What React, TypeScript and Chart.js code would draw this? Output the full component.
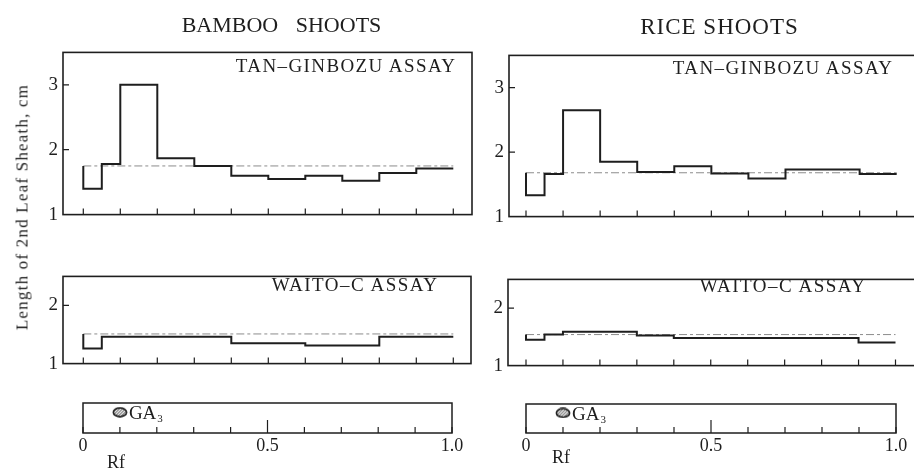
import React, { useEffect, useRef } from "react";
import { Chart, registerables } from "chart.js";

Chart.register(...registerables);

// ---------------- data ----------------
const rfBinStarts = [0, 0.05, 0.1, 0.2, 0.3, 0.4, 0.5, 0.6, 0.7, 0.8, 0.9];
const rfEnd = 1.0;

const bambooTanGinbozu = [1.4, 1.78, 3.0, 1.87, 1.75, 1.6, 1.55, 1.6, 1.52, 1.64, 1.71];
const bambooTanControl = 1.75;

const riceTanGinbozu = [1.33, 1.66, 2.65, 1.85, 1.69, 1.78, 1.67, 1.59, 1.73, 1.73, 1.66];
const riceTanControl = 1.68;

const bambooWaitoC = [1.26, 1.46, 1.46, 1.46, 1.46, 1.35, 1.35, 1.31, 1.31, 1.46, 1.46];
const bambooWaitoControl = 1.51;

const riceWaitoC = [1.45, 1.54, 1.59, 1.59, 1.525, 1.48, 1.48, 1.48, 1.48, 1.48, 1.4];
const riceWaitoControl = 1.54;

const ga3Rf = 0.1;

const rfTickValues = [0, 0.1, 0.2, 0.3, 0.4, 0.5, 0.6, 0.7, 0.8, 0.9, 1.0];
const rfLabelValues = [0, 0.5, 1.0];
const rfLabelTexts = ["0", "0.5", "1.0"];
const tanYLabels = [1, 2, 3];
const waitoYLabels = [1, 2];

// ---------------- styling ----------------
const FONT = "'Liberation Serif', 'Times New Roman', serif";
const INK = "#1e1e1e";

type Area = { l: number; t: number; r: number; b: number };

function stepPoints(values: number[], control: number) {
  const pts = [{ x: rfBinStarts[0], y: control }];
  values.forEach((v, i) => pts.push({ x: rfBinStarts[i], y: v }));
  pts.push({ x: rfEnd, y: values[values.length - 1] });
  return pts;
}

const near = (a: number, b: number) => Math.abs(a - b) < 1e-6;

const framePlugin = {
  id: "frame",
  afterDraw(chart: any, _args: any, opts: any) {
    const { ctx, chartArea: a, scales } = chart;
    ctx.save();
    ctx.strokeStyle = INK;
    ctx.lineWidth = opts.lineWidth || 1.5;
    ctx.strokeRect(a.left, a.top, a.right - a.left, a.bottom - a.top);
    ctx.lineWidth = 1.2;
    ctx.beginPath();
    (opts.xMarks || []).forEach((v: number) => {
      const px = scales.x.getPixelForValue(v);
      const len = opts.bigX && opts.bigX.some((b: number) => near(b, v)) ? opts.bigLen : opts.len;
      ctx.moveTo(px, a.bottom);
      ctx.lineTo(px, a.bottom - len);
    });
    (opts.yMarks || []).forEach((v: number) => {
      const py = scales.y.getPixelForValue(v);
      ctx.moveTo(a.left, py);
      ctx.lineTo(a.left + opts.len, py);
    });
    ctx.stroke();
    ctx.restore();
  },
};

const gaLabelPlugin = {
  id: "gaLabel",
  afterDatasetsDraw(chart: any) {
    const meta = chart.getDatasetMeta(0);
    if (!meta || !meta.data.length) return;
    const p = meta.data[0];
    const ctx = chart.ctx;
    ctx.save();
    ctx.fillStyle = INK;
    ctx.textBaseline = "alphabetic";
    ctx.font = `19px ${FONT}`;
    const x0 = p.x + 9;
    const base = p.y + 7;
    ctx.fillText("GA", x0, base);
    const w = ctx.measureText("GA").width;
    ctx.font = `11px ${FONT}`;
    ctx.fillText("3", x0 + w + 1, base + 3);
    ctx.restore();
  },
};

function makeSpotIcon() {
  const c = document.createElement("canvas");
  c.width = 16;
  c.height = 11;
  const g = c.getContext("2d")!;
  g.beginPath();
  g.ellipse(8, 5.5, 6.6, 4.3, 0, 0, Math.PI * 2);
  g.fillStyle = "#9a9a9a";
  g.fill();
  g.save();
  g.clip();
  g.strokeStyle = "#f4f4f4";
  g.lineWidth = 1;
  for (let i = -12; i < 20; i += 3) {
    g.beginPath();
    g.moveTo(i, 11);
    g.lineTo(i + 11, 0);
    g.stroke();
  }
  g.restore();
  g.beginPath();
  g.ellipse(8, 5.5, 6.6, 4.3, 0, 0, Math.PI * 2);
  g.lineWidth = 1.7;
  g.strokeStyle = "#222";
  g.stroke();
  return c;
}

type PlotProps = {
  area: Area;
  x0px: number;
  x1px: number;
  yMax: number;
  yLabels: number[];
  values: number[];
  control: number;
};

const PAD_L = 40;
const PAD_T = 4;
const PAD_R = 4;
const PAD_B = 4;

function PlotPanel({ area, x0px, x1px, yMax, yLabels, values, control }: PlotProps) {
  const ref = useRef<HTMLCanvasElement>(null);
  const width = area.r - area.l + PAD_L + PAD_R;
  const height = area.b - area.t + PAD_T + PAD_B;
  useEffect(() => {
    if (!ref.current) return;
    const unit = x1px - x0px;
    const xMin = (area.l - x0px) / unit;
    const xMax = (area.r - x0px) / unit;
    const chart = new Chart(ref.current, {
      type: "line",
      data: {
        datasets: [
          {
            data: stepPoints(values, control),
            stepped: true,
            borderColor: INK,
            borderWidth: 2,
            pointRadius: 0,
            fill: false,
            borderJoinStyle: "miter",
          },
          {
            data: [
              { x: rfBinStarts[0], y: control },
              { x: rfEnd, y: control },
            ],
            borderColor: "#8c8c8c",
            borderWidth: 1,
            borderDash: [8, 3, 3, 3],
            pointRadius: 0,
            fill: false,
          },
        ],
      } as any,
      options: {
        animation: false,
        responsive: false,
        events: [],
        layout: { padding: { left: 0, top: PAD_T, right: PAD_R, bottom: 0 } },
        plugins: {
          legend: { display: false },
          tooltip: { enabled: false },
          frame: { xMarks: rfTickValues, yMarks: yLabels.slice(1), len: 6, lineWidth: 1.6 },
        } as any,
        scales: {
          x: {
            type: "linear",
            min: xMin,
            max: xMax,
            grid: { display: false, drawTicks: false },
            border: { display: false },
            ticks: { display: false },
            afterFit: (s: any) => {
              s.height = PAD_B;
            },
          },
          y: {
            type: "linear",
            min: 1,
            max: yMax,
            grid: { display: false, drawTicks: false },
            border: { display: false },
            ticks: {
              stepSize: 1,
              autoSkip: false,
              padding: 5,
              color: INK,
              font: { family: FONT, size: 19 },
              callback: (v: any) => (yLabels.some((l) => near(l, v)) ? String(v) : ""),
            },
            afterFit: (s: any) => {
              s.width = PAD_L;
            },
          },
        },
      } as any,
      plugins: [framePlugin],
    });
    return () => chart.destroy();
  }, []);
  return (
    <canvas
      ref={ref}
      width={width}
      height={height}
      style={{ position: "absolute", left: area.l - PAD_L, top: area.t - PAD_T, width, height }}
    />
  );
}

const S_PAD_X = 24;
const S_PAD_T = 3;
const S_PAD_B = 26;

function StripPanel({ area }: { area: Area }) {
  const ref = useRef<HTMLCanvasElement>(null);
  const width = area.r - area.l + 2 * S_PAD_X;
  const height = area.b - area.t + S_PAD_T + S_PAD_B;
  useEffect(() => {
    if (!ref.current) return;
    const chart = new Chart(ref.current, {
      type: "line",
      data: {
        datasets: [
          {
            data: [{ x: ga3Rf, y: 0.69 }],
            showLine: false,
            pointStyle: makeSpotIcon(),
            pointRadius: 8,
          },
        ],
      } as any,
      options: {
        animation: false,
        responsive: false,
        events: [],
        layout: { padding: { left: S_PAD_X, top: S_PAD_T, right: S_PAD_X, bottom: 0 } },
        plugins: {
          legend: { display: false },
          tooltip: { enabled: false },
          frame: { xMarks: rfTickValues, bigX: [0.5], len: 6, bigLen: 13, lineWidth: 1.5 },
        } as any,
        scales: {
          x: {
            type: "linear",
            min: 0,
            max: 1,
            grid: { display: false, drawTicks: false },
            border: { display: false },
            ticks: {
              stepSize: 0.1,
              autoSkip: false,
              maxRotation: 0,
              padding: 2,
              color: INK,
              font: { family: FONT, size: 18 },
              callback: (v: any) => {
                const i = rfLabelValues.findIndex((l) => near(l, v));
                return i >= 0 ? rfLabelTexts[i] : "";
              },
            },
            afterFit: (s: any) => {
              s.height = S_PAD_B;
            },
          },
          y: { display: false, min: 0, max: 1 },
        },
      } as any,
      plugins: [framePlugin, gaLabelPlugin],
    });
    return () => chart.destroy();
  }, []);
  return (
    <canvas
      ref={ref}
      width={width}
      height={height}
      style={{ position: "absolute", left: area.l - S_PAD_X, top: area.t - S_PAD_T, width, height }}
    />
  );
}

function Text({
  children,
  left,
  right,
  center,
  top,
  size,
  ls = 0,
  ws = 0,
}: {
  children: React.ReactNode;
  left?: number;
  right?: number;
  center?: number;
  top: number;
  size: number;
  ls?: number;
  ws?: number;
}) {
  const style: React.CSSProperties = {
    position: "absolute",
    top,
    fontSize: size,
    lineHeight: `${size}px`,
    fontFamily: FONT,
    color: INK,
    whiteSpace: "pre",
    letterSpacing: ls,
    wordSpacing: ws,
  };
  if (left !== undefined) style.left = left;
  if (right !== undefined) style.right = 914 - right - ls;
  if (center !== undefined) {
    style.left = center;
    style.transform = "translateX(-50%)";
  }
  return <div style={style}>{children}</div>;
}

export default function App() {
  return (
    <div
      style={{
        position: "absolute",
        left: 0,
        top: 0,
        width: 914,
        height: 469,
        overflow: "hidden",
        background: "#fff",
      }}
    >
      <PlotPanel
        area={{ l: 63, t: 40, r: 472, b: 227 }}
        x0px={83.3}
        x1px={453.3}
        yMax={3.5}
        yLabels={tanYLabels}
        values={bambooTanGinbozu}
        control={bambooTanControl}
      />
      <PlotPanel
        area={{ l: 509, t: 43, r: 917, b: 229 }}
        x0px={526}
        x1px={896.7}
        yMax={3.5}
        yLabels={tanYLabels}
        values={riceTanGinbozu}
        control={riceTanControl}
      />
      <PlotPanel
        area={{ l: 63, t: 264, r: 471, b: 376 }}
        x0px={83.3}
        x1px={453.3}
        yMax={2.5}
        yLabels={waitoYLabels}
        values={bambooWaitoC}
        control={bambooWaitoControl}
      />
      <PlotPanel
        area={{ l: 508, t: 267, r: 917, b: 378 }}
        x0px={526}
        x1px={895.5}
        yMax={2.5}
        yLabels={waitoYLabels}
        values={riceWaitoC}
        control={riceWaitoControl}
      />
      <StripPanel area={{ l: 83, t: 397, r: 452, b: 433 }} />
      <StripPanel area={{ l: 526, t: 398, r: 896, b: 433 }} />

      <Text center={281.5} top={13.5} size={22} ws={12}>
        BAMBOO SHOOTS
      </Text>
      <Text center={719.5} top={14.5} size={23} ls={1}>
        RICE SHOOTS
      </Text>
      <Text right={455} top={55.5} size={19} ls={1.4}>
        TAN–GINBOZU ASSAY
      </Text>
      <Text right={892} top={58} size={19} ls={1.4}>
        TAN–GINBOZU ASSAY
      </Text>
      <Text right={437} top={274.5} size={19} ls={1.5}>
        WAITO–C ASSAY
      </Text>
      <Text right={865} top={276} size={19} ls={1.5}>
        WAITO–C ASSAY
      </Text>
      <Text left={107} top={453} size={18}>
        Rf
      </Text>
      <Text left={552} top={448} size={18}>
        Rf
      </Text>
      <div
        style={{
          position: "absolute",
          left: 22,
          top: 207,
          transform: "translate(-50%, -50%) rotate(-90deg)",
          fontFamily: FONT,
          fontSize: 17,
          lineHeight: "17px",
          letterSpacing: 1.2,
          whiteSpace: "nowrap",
          color: INK,
        }}
      >
        Length of 2nd Leaf Sheath, cm
      </div>
    </div>
  );
}
